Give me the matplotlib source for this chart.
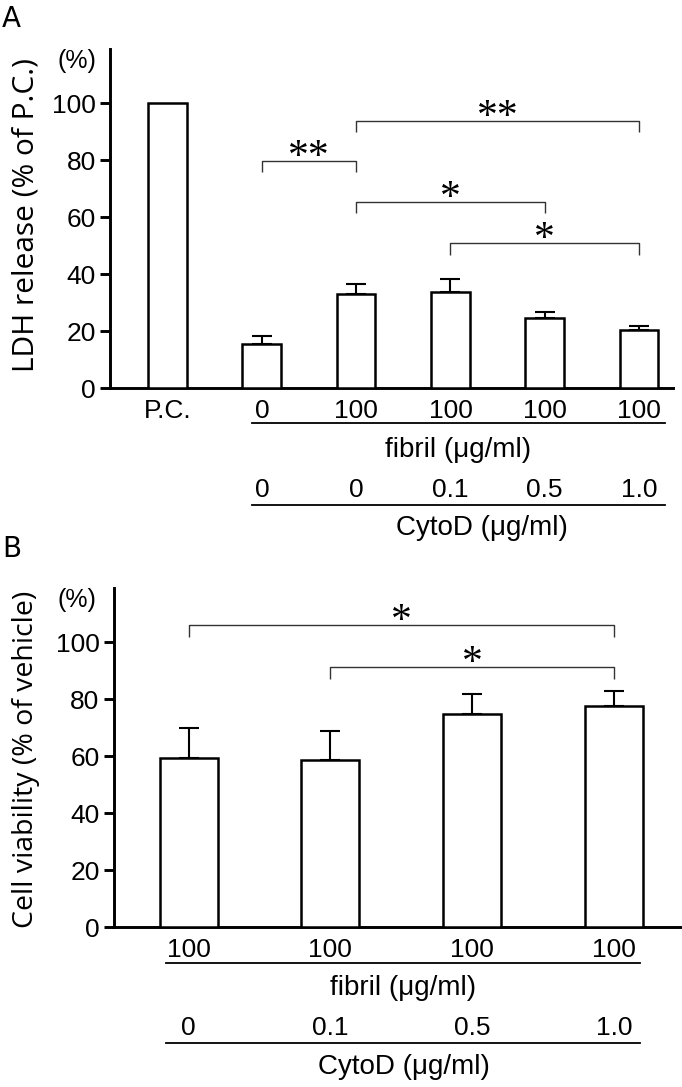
import matplotlib
matplotlib.use("Agg")
import matplotlib.pyplot as plt
import matplotlib.transforms as mtransforms

# ---------------- data ----------------
A_fibril = ["P.C.", "0", "100", "100", "100", "100"]
A_cytod = ["", "0", "0", "0.1", "0.5", "1.0"]
A_mean = [100, 15.6, 33.0, 33.7, 24.6, 20.5]
A_err = [0, 2.9, 3.5, 4.8, 2.3, 1.4]
# brackets: (left bar, right bar, height, label)
A_sig = [(1, 2, 79.8, "**"), (2, 5, 93.9, "**"), (2, 4, 65.4, "*"), (3, 5, 50.9, "*")]

B_fibril = ["100", "100", "100", "100"]
B_cytod = ["0", "0.1", "0.5", "1.0"]
B_mean = [59.6, 58.6, 75.0, 77.8]
B_err = [10.2, 10.4, 6.8, 5.3]
B_sig = [(0, 3, 106.0, "*"), (1, 3, 91.2, "*")]

yticks = [0, 20, 40, 60, 80, 100]

# ---------------- layout ----------------
W, H = 682, 1087
fig = plt.figure(figsize=(W / 100, H / 100), dpi=100)
SANS = "Liberation Sans"
LABF = "Open Sans"
FS = 19


def fx(px):
    return px / W


def fy(px):
    return 1 - px / H


def make_axes(left, right, top, bottom):
    return fig.add_axes([fx(left), fy(bottom), fx(right) - fx(left), fy(top) - fy(bottom)])


def style(ax, xlim):
    ax.set_xlim(*xlim)
    ax.set_ylim(0, 119)
    for s in ("top", "right"):
        ax.spines[s].set_visible(False)
    for s in ("left", "bottom"):
        ax.spines[s].set_linewidth(2.1)
    ax.set_yticks(yticks)
    ax.set_yticklabels([str(v) for v in yticks], fontsize=FS, family=SANS)
    ax.tick_params(axis="y", direction="out", length=7, width=2.1, pad=3)
    ax.tick_params(axis="x", length=0, pad=8)
    for lab in ax.get_xticklabels():
        lab.set_family(SANS)
        lab.set_fontsize(FS)


def draw_bars(ax, means, errs):
    x = list(range(len(means)))
    ax.bar(x, means, width=0.41, facecolor="white", edgecolor="black", linewidth=1.8, zorder=3)
    xs = [i for i in x if errs[i] > 0]
    ms = [means[i] for i in xs]
    es = [errs[i] for i in xs]
    ax.errorbar(xs, ms, yerr=[[0] * len(es), es], fmt="none", ecolor="black",
                elinewidth=1.5, capsize=7, capthick=1.5, zorder=2)


def draw_sig(ax, sig):
    for l, r, h, lab in sig:
        drop = 4.0
        ax.plot([l, l, r, r], [h - drop, h, h, h - drop], color="#333333", lw=1.0,
                solid_capstyle="butt", zorder=4)
        ax.text((l + r) / 2, h + 1.2, lab, ha="center", va="center",
                fontsize=30, family="Liberation Serif", zorder=5)


def bottom_rows(ax, row_cyto, row1_line_y, row2_y, row2_line_y, x0px, x1px,
                fib_x, fib_y, cyt_x, cyt_y):
    trans = mtransforms.blended_transform_factory(ax.transData, fig.transFigure)
    for i, lab in enumerate(row_cyto):
        if lab:
            ax.text(i, fy(row2_y), lab, transform=trans, ha="center", va="center",
                    fontsize=FS, family=SANS, clip_on=False)
    for ly in (row1_line_y, row2_line_y):
        fig.add_artist(plt.Line2D([fx(x0px), fx(x1px)], [fy(ly), fy(ly)],
                                  color="black", lw=1.3))
    fig.text(fx(fib_x), fy(fib_y), "fibril (\u03bcg/ml)", ha="center", va="center",
             fontsize=20, family=SANS)
    fig.text(fx(cyt_x), fy(cyt_y), "CytoD (\u03bcg/ml)", ha="center", va="center",
             fontsize=20, family=SANS)


def fit_ylabel(text, xc, yc, length):
    t = fig.text(fx(xc), fy(yc), text, rotation=90, ha="center", va="center",
                 fontsize=18, family=LABF)
    fig.canvas.draw()
    ext = t.get_window_extent()
    t.set_fontsize(18 * length / ext.height)


# ---------------- Panel A ----------------
axA = make_axes(110, 673, 49.3, 388.3)
axA.set_xticks(range(len(A_fibril)))
axA.set_xticklabels(A_fibril)
style(axA, (-0.61, 5.36))
draw_bars(axA, A_mean, A_err)
draw_sig(axA, A_sig)
bottom_rows(axA, A_cytod, 423, 490, 505, 252, 665, 458, 450, 482, 528)
fig.text(fx(77), fy(61), "(%)", ha="center", va="center", fontsize=18, family=SANS)
fig.text(fx(2), fy(19), "A", ha="left", va="center", fontsize=20, family="DejaVu Sans")
fit_ylabel("LDH release (% of P.C.)", 26, 215, 314)

# ---------------- Panel B ----------------
axB = make_axes(113.5, 682, 588.3, 927.3)
axB.set_xticks(range(len(B_fibril)))
axB.set_xticklabels(B_fibril)
style(axB, (-0.53, 3.48))
draw_bars(axB, B_mean, B_err)
draw_sig(axB, B_sig)
bottom_rows(axB, B_cytod, 963, 1028, 1043, 166, 640, 403, 988, 404, 1067)
fig.text(fx(77), fy(600), "(%)", ha="center", va="center", fontsize=18, family=SANS)
fig.text(fx(2), fy(549), "B", ha="left", va="center", fontsize=20, family="DejaVu Sans")
fit_ylabel("Cell viability (% of vehicle)", 26, 759, 338)

fig.savefig("out.png", dpi=100)
